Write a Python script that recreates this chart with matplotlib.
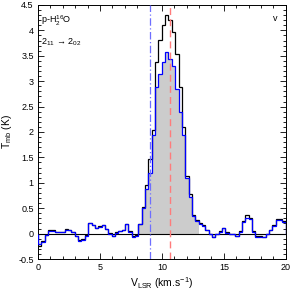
import numpy as np
import matplotlib
matplotlib.use("Agg")
import matplotlib.pyplot as plt
from matplotlib.ticker import MultipleLocator

plt.rcParams['font.family'] = ['Liberation Sans', 'DejaVu Sans']
plt.rcParams['mathtext.fontset'] = 'custom'
plt.rcParams['mathtext.rm'] = 'Liberation Sans'
plt.rcParams['mathtext.it'] = 'Liberation Sans'

# channel grid (km/s)
v_start = 0.0
dv = 0.27

# main beam temperature (K), black spectrum
t_black = [-0.24, -0.15, -0.02, 0.065, 0.065, 0.025, 0.03, 0.04, 0.09, 0.07,
           0.04, -0.04, -0.13, -0.11, -0.03, 0.21, 0.17, 0.12, 0.14, 0.17,
           0.10, 0.01, -0.04, 0.025, 0.05, 0.075, 0.19, 0.05, -0.05, -0.03,
           0.19, 0.52, 0.95, 1.46, 2.03, 3.38, 3.82, 4.10, 4.30, 4.20,
           3.97, 3.54, 2.89, 2.10, 1.14, 0.77, 0.37, 0.26, 0.20, 0.16,
           0.08, 0.00, -0.06, 0.00, 0.05, 0.12, 0.03, 0.00, 0.00, -0.04,
           0.05, 0.25, 0.36, 0.31, 0.05, -0.05, -0.05, -0.06, 0.00, 0.08,
           0.16, 0.29, 0.29, 0.25]

# blue spectrum
t_blue = [-0.20, -0.16, -0.03, 0.06, 0.06, 0.03, 0.025, 0.04, 0.08, 0.07,
          0.03, -0.05, -0.14, -0.12, -0.04, 0.20, 0.16, 0.12, 0.13, 0.16,
          0.09, 0.00, -0.05, 0.02, 0.05, 0.07, 0.18, 0.04, -0.06, -0.04,
          0.18, 0.50, 0.88, 1.20, 1.95, 2.89, 3.14, 3.38, 3.58, 3.44,
          3.30, 2.85, 2.40, 1.95, 1.10, 0.72, 0.35, 0.25, 0.19, 0.15,
          0.07, -0.01, -0.07, -0.01, 0.04, 0.11, 0.02, -0.01, -0.01, -0.05,
          0.04, 0.22, 0.31, 0.28, 0.04, -0.06, -0.06, -0.07, -0.01, 0.07,
          0.14, 0.26, 0.26, 0.22]

fill_first, fill_last = 30, 47   # channels shaded grey
v_blue_line = 9.05
v_red_line = 10.65

edges = v_start + dv * np.arange(len(t_black) + 1)

fig = plt.figure(figsize=(2.92, 2.93), dpi=100)
ax = fig.add_axes([0.130, 0.116, 0.849, 0.867])

ax.stairs(t_blue[fill_first:fill_last + 1], edges[fill_first:fill_last + 2],
          fill=True, color='#cccccc', baseline=0, zorder=1)
ax.axhline(0, color='black', lw=0.8, zorder=2)
ax.stairs(t_black, edges, color='black', lw=0.9, zorder=3)
ax.stairs(t_blue, edges, color='#0000ff', lw=0.9, zorder=4)
ax.axvline(v_blue_line, color='#6e6eff', lw=0.9, ls=(0, (6, 2, 1, 2)), zorder=5)
ax.axvline(v_red_line, color='#ff7b7b', lw=1.0, ls=(0, (5, 3)), zorder=5)

ax.set_xlim(0, 20)
ax.set_ylim(-0.5, 4.5)
ax.xaxis.set_minor_locator(MultipleLocator(1))
ax.yaxis.set_minor_locator(MultipleLocator(0.1))
ax.set_xticks([0, 5, 10, 15, 20], ['0', '5', '10', '15', '20'])
ax.set_yticks([-0.5, 0, 0.5, 1, 1.5, 2, 2.5, 3, 3.5, 4, 4.5],
              ['-0.5', '0', '0.5', '1', '1.5', '2', '2.5', '3', '3.5', '4', '4.5'])
ax.tick_params(which='both', direction='in', top=True, right=True,
               labelsize=6.5, width=0.6, pad=3)
ax.tick_params(which='major', length=4)
ax.tick_params(which='minor', length=2)
for s in ax.spines.values():
    s.set_linewidth(0.7)

ax.set_xlabel(r'V$_{\rm LSR}$ (km.s$^{-1}$)', fontsize=7.5, labelpad=2)
ax.set_ylabel(r'T$_{\rm mb}$ (K)', fontsize=7.5, labelpad=3)

ax.text(0.012, 0.965, r'p-H$_2^{16}$O', transform=ax.transAxes,
        fontsize=6.5, va='top', ha='left')
ax.text(0.012, 0.875, r'2$_{11}$$\,\rightarrow\,$2$_{02}$', transform=ax.transAxes,
        fontsize=6.5, va='top', ha='left')
ax.text(0.965, 0.965, 'v', transform=ax.transAxes,
        fontsize=6.5, va='top', ha='right')

fig.savefig('out.png', dpi=100)
